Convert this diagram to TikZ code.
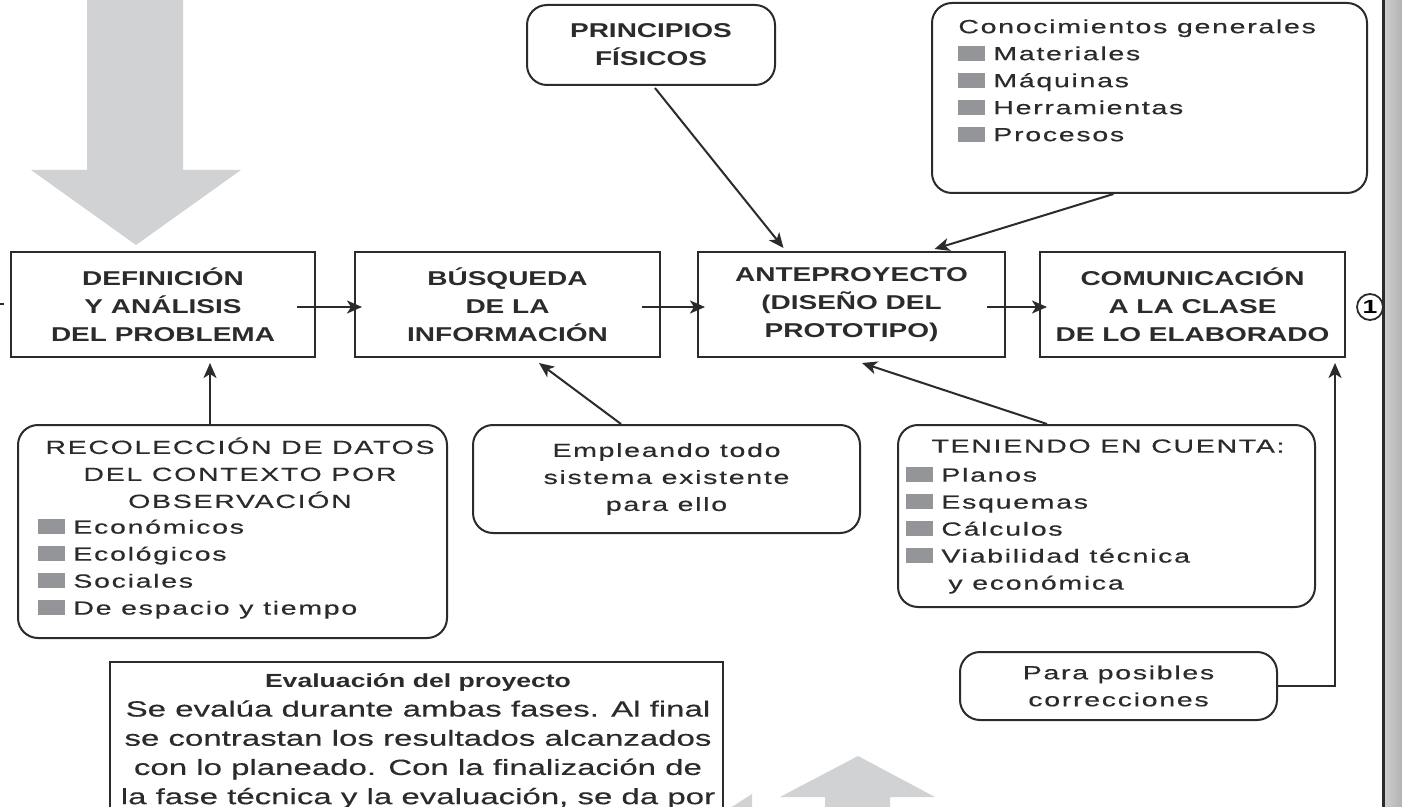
\documentclass[tikz,border=0pt]{standalone}
\usepackage{fontspec}
\setmainfont{Liberation Sans}
\newfontfamily\hfont[FakeStretch=1.4]{Liberation Sans}
\newfontfamily\rfont[FakeStretch=1.5,LetterSpace=9,FakeBold=0.4]{Liberation Sans}
\newfontfamily\efont[FakeStretch=1.5,FakeBold=0.3]{Liberation Sans}
\usetikzlibrary{arrows.meta,calc}
\definecolor{arrowgray}{HTML}{D1D2D4}
\definecolor{bulgray}{HTML}{939598}
\definecolor{ink}{HTML}{2B2B2B}
\newcommand{\bul}{\textcolor{bulgray}{\rule[-0.4pt]{13.5pt}{7.5pt}}\hspace{4pt}}
\begin{document}
\begin{tikzpicture}[x=0.5pt,y=-0.5pt,
  headbox/.style={draw=ink,line width=1pt,inner sep=0pt,font=\hfont\bfseries\fontsize{10}{14}\selectfont,text=ink,align=center,minimum height=52.5pt},
  softbox/.style={draw=ink,line width=1pt,rounded corners=10pt,inner sep=0pt},
  rtext/.style={font=\rfont\fontsize{9.5}{13.5}\selectfont,text=ink,inner sep=0pt},
  htext/.style={font=\hfont\bfseries\fontsize{10}{14}\selectfont,text=ink,inner sep=0pt},
  arr/.style={draw=ink,line width=1pt,-{Stealth[length=7.5pt,width=6.5pt,inset=2pt]}},
  plain/.style={draw=ink,line width=1pt}]
\clip (0,0) rectangle (1402,807);
\fill[white] (0,0) rectangle (1402,807);
% big gray arrows
\fill[arrowgray] (87,0) -- (183,0) -- (183,170) -- (241,170) -- (136,245) -- (31,170) -- (87,170) -- cycle;
\fill[arrowgray] (858,756) -- (935,797) -- (890,797) -- (890,810) -- (825,810) -- (825,797) -- (780,797) -- cycle;
\fill[arrowgray] (727,810) -- (752,794) -- (752,810) -- cycle;
% right margin bar
\fill[left color=gray!40,right color=gray!60] (1385,0) rectangle (1402,807);
\coordinate (rl1) at (1383,0);
\coordinate (rl2) at (1383,807);
\draw[ink,line width=1.5pt] (rl1) -- (rl2);
\node[circle,draw=ink,fill=white,line width=0.9pt,minimum size=13pt,inner sep=0pt,font=\hfont\bfseries\fontsize{9.5}{9.5}\selectfont] (one) at (1370,307) {1};
% left tick
\coordinate (lt1) at (0,304);
\coordinate (lt2) at (4,304);
\draw[plain] (lt1) -- (lt2);
% main boxes
\node[headbox,minimum width=152pt] (def) at (163,304.5) {DEFINICIÓN\\Y ANÁLISIS\\DEL PROBLEMA};
\node[headbox,minimum width=152.5pt] (busq) at (507.5,304.5) {BÚSQUEDA\\DE LA\\INFORMACIÓN};
\node[headbox,minimum width=153.5pt] (ante) at (851.5,304.5) {ANTEPROYECTO\\(DISEÑO DEL\\PROTOTIPO)};
\node[headbox,minimum width=152.5pt] (com) at (1192.5,304.5) {COMUNICACIÓN\\A LA CLASE\\DE LO ELABORADO};
% top boxes
\node[softbox,minimum width=124pt,minimum height=40pt,htext,align=center] (prin) at (651,45) {PRINCIPIOS\\FÍSICOS};
\node[softbox,minimum width=217.5pt,minimum height=95pt] (cono) at (1149.5,98) {};
\node[rtext,align=left,anchor=north west] (conot) at (958,19) {Conocimientos generales\\\bul Materiales\\\bul Máquinas\\\bul Herramientas\\\bul Procesos};
% lower boxes
\node[softbox,minimum width=214.5pt,minimum height=106.5pt] (reco) at (232.5,531.5) {};
\node[rtext,align=center,anchor=north] (recoh) at (240,437) {RECOLECCIÓN DE DATOS\\DEL CONTEXTO POR\\OBSERVACIÓN};
\node[rtext,align=left,anchor=north west] (recol) at (38,519) {\bul Económicos\\\bul Ecológicos\\\bul Sociales\\\bul De espacio y tiempo};
\node[softbox,minimum width=193.5pt,minimum height=54pt,rtext,align=center] (emp) at (666.5,479) {Empleando todo\\sistema existente\\para ello};
\node[softbox,minimum width=208.5pt,minimum height=91pt] (ten) at (1106.5,516) {};
\node[rtext,anchor=north] (tent) at (1108,439) {TENIENDO EN CUENTA:};
\node[rtext,align=left,anchor=north west] (tenl) at (906,467) {\bul Planos\\\bul Esquemas\\\bul Cálculos\\\bul Viabilidad técnica\\\hspace{21pt}y económica};
\node[softbox,minimum width=158.5pt,minimum height=34pt,rtext,align=center] (para) at (1118.5,686) {Para posibles\\correcciones};
% evaluation box
\node[draw=ink,line width=1pt,minimum width=306.5pt,minimum height=100pt,inner sep=0pt] (eval) at (416.5,762) {};
\node[font=\efont\fontsize{11}{14.6}\selectfont,text=ink,align=center,anchor=north,inner sep=0pt] (evalt) at (418,673)
  {{\hfont\bfseries\fontsize{9.5}{14.6}\selectfont Evaluación del proyecto}\\Se evalúa durante ambas fases. Al final\\se contrastan los resultados alcanzados\\con lo planeado. Con la finalización de\\la fase técnica y la evaluación, se da por};
% connectors
\draw[arr] ($(def.east)+(-19,2.5)$) -- ($(busq.west)+(8,2.5)$);
\draw[arr] ($(busq.east)+(-19,2.5)$) -- ($(ante.west)+(8,2.5)$);
\draw[arr] ($(ante.east)+(-19,2.5)$) -- ($(com.west)+(8,2.5)$);
\draw[arr] ($(prin.south)+(4,2)$) -- ($(ante.north)+(-68,-3)$);
\draw[arr] ($(cono.south)+(-36,0)$) -- ($(ante.north)+(83,-2)$);
\draw[arr] ($(reco.north)+(-22.5,0)$) -- ($(def.south)+(47,5)$);
\draw[arr] ($(emp.north)+(-45.5,0)$) -- ($(busq.south)+(31.5,5)$);
\draw[arr] ($(ten.north)+(-59.5,0)$) -- ($(ante.south)+(10.5,5)$);
\draw[arr] (para.east) -| ($(com.south)+(142.5,5)$);
\end{tikzpicture}
\end{document}
